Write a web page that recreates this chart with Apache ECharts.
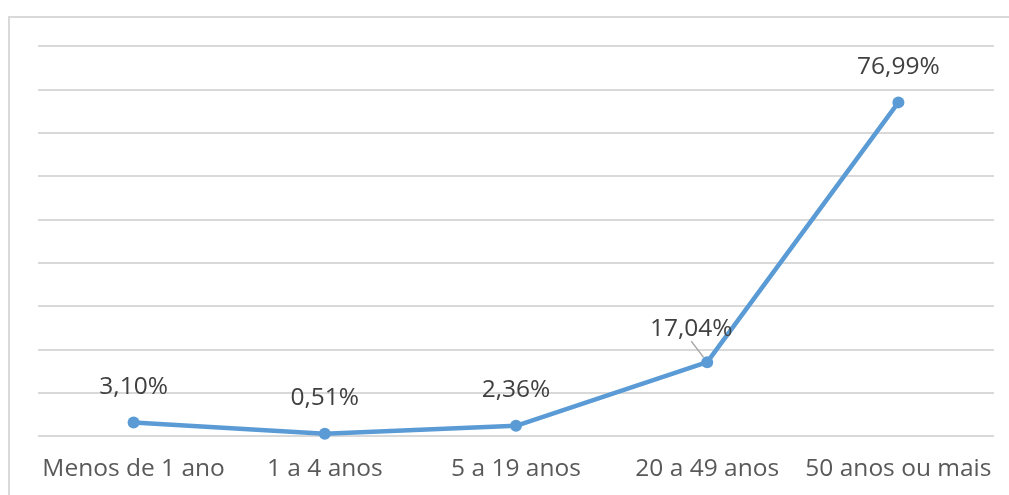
<!DOCTYPE html>
<html>
<head>
<meta charset="utf-8">
<script src="https://cdn.jsdelivr.net/npm/echarts@6/dist/echarts.min.js"></script>
<style>
  html, body { margin: 0; padding: 0; background: #fff; }
  #chart { width: 1009px; height: 495px; }
</style>
</head>
<body>
<div id="chart"></div>
<script>
// Faixas etárias e percentuais
const categories = ['Menos de 1 ano', '1 a 4 anos', '5 a 19 anos', '20 a 49 anos', '50 anos ou mais'];
const values = [3.10, 0.51, 2.36, 17.04, 76.99];

const fmt = v => v.toFixed(2).replace('.', ',') + '%';

const chart = echarts.init(document.getElementById('chart'));
chart.setOption({
  animation: false,
  backgroundColor: '#ffffff',
  graphic: [{
    type: 'rect',
    shape: { x: 9, y: 17, width: 1020, height: 500 },
    style: { fill: 'none', stroke: '#d9d9d9', lineWidth: 2 },
    silent: true
  }],
  grid: { left: 38, right: 15, top: 46, bottom: 59 },
  xAxis: {
    type: 'category',
    data: categories,
    boundaryGap: true,
    axisLine: { show: false },
    axisTick: { show: false },
    axisLabel: { interval: 0, color: '#595959', fontSize: 24.5, fontFamily: 'Open Sans', margin: 21 }
  },
  yAxis: {
    type: 'value',
    min: 0, max: 90, interval: 10,
    axisLabel: { show: false },
    axisLine: { show: false },
    axisTick: { show: false },
    splitLine: { lineStyle: { color: '#d9d9d9', width: 2 } }
  },
  series: [{
    type: 'line',
    // the 20–49 label sits a little to the left, tied back to its point
    data: values.map((v, i) => i === 3
      ? { value: v, labelLine: { show: true } }
      : v),
    lineStyle: { color: '#5b9bd5', width: 4.5 },
    itemStyle: { color: '#5b9bd5' },
    symbol: 'circle',
    symbolSize: 12,
    label: {
      show: true,
      position: 'top',
      distance: 17,
      color: '#404040',
      fontSize: 24.5,
      fontFamily: 'Open Sans',
      formatter: p => fmt(p.value)
    },
    labelLayout: p => p.dataIndex === 3 ? { dx: -16, dy: 2 } : {},
    labelLine: { show: false, length2: 0, lineStyle: { color: '#a6a6a6', width: 1.5 } }
  }]
});
</script>
</body>
</html>
